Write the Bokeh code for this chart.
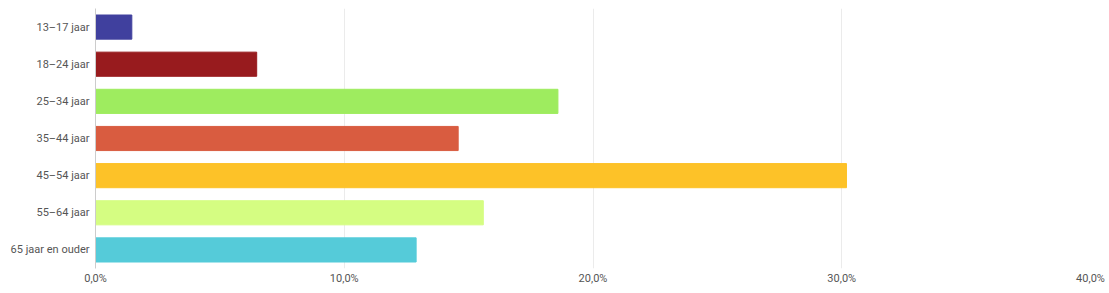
from bokeh.plotting import figure
from bokeh.models import FactorRange, Range1d, FixedTicker, CustomJSTickFormatter, ColumnDataSource
from bokeh.embed import file_html
from bokeh.resources import INLINE

categories = ["13–17 jaar", "18–24 jaar", "25–34 jaar", "35–44 jaar",
              "45–54 jaar", "55–64 jaar", "65 jaar en ouder"]
values = [1.46, 6.48, 18.59, 14.58, 30.19, 15.59, 12.89]
colors = ["#40409E", "#981B1E", "#9EEC5F", "#D95C40", "#FDC228", "#D5FD82", "#55CBD9"]
x_ticks = [0, 10, 20, 30, 40]

src = ColumnDataSource(dict(cat=categories, val=values, col=colors))

p = figure(width=1109, height=293, output_backend="svg", toolbar_location=None,
           y_range=FactorRange(*reversed(categories), range_padding=0),
           x_range=Range1d(0, 40),
           min_border_left=95, min_border_right=19, min_border_top=8, min_border_bottom=25)
p.hbar(y="cat", right="val", left=0, height=0.65, color="col", source=src)

p.outline_line_color = None
p.ygrid.grid_line_color = None
p.xgrid.grid_line_color = "#ebebeb"
p.xaxis.ticker = FixedTicker(ticks=x_ticks)
p.xaxis.formatter = CustomJSTickFormatter(code="return tick.toFixed(1).replace('.', ',') + '%';")
p.xaxis.axis_line_color = None
p.xaxis.major_tick_line_color = None
p.xaxis.minor_tick_line_color = None
p.xaxis.major_tick_out = 0
p.xaxis.major_label_standoff = 3
p.yaxis.axis_line_color = "#cccccc"
p.yaxis.major_tick_line_color = None
p.yaxis.minor_tick_line_color = None
p.yaxis.major_tick_out = 0
p.yaxis.major_label_standoff = 6
for ax in (p.xaxis, p.yaxis):
    ax.major_label_text_font = "Roboto"
    ax.major_label_text_font_size = "11px"
    ax.major_label_text_color = "#555555"

open("out.html", "w").write(file_html(p, INLINE))
